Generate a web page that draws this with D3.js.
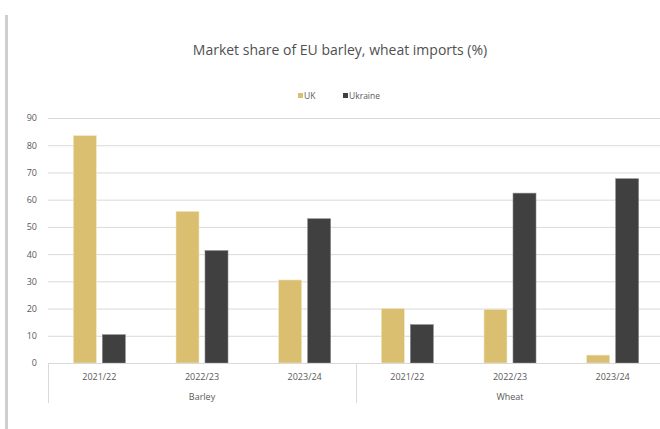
<!DOCTYPE html>
<html><head><meta charset="utf-8">
<script src="https://cdn.jsdelivr.net/npm/d3@7"></script>
<style>body{margin:0;background:#fff;}svg{display:block;font-family:"Open Sans",sans-serif;}</style>
</head><body><svg id="c" width="660" height="429"></svg>
<script>
const groups = ["Barley", "Wheat"];
const seasons = ["2021/22", "2022/23", "2023/24"];
const seriesNames = ["UK", "Ukraine"];
const ukValues = [83.5, 55.7, 30.5, 20.0, 19.7, 2.9];
const ukraineValues = [10.4, 41.3, 53.0, 14.1, 62.4, 67.7];
const yTicks = [0, 10, 20, 30, 40, 50, 60, 70, 80, 90];
const colors = ["#d9bf6f", "#404040"];

(function () {
const svg = d3.select("#c");
const mL = 48, mR = 664, mT = 118, mB = 363;
const cats = [];
groups.forEach(g => seasons.forEach(s => cats.push(g + "|" + s)));
const x = d3.scaleBand().domain(cats).range([mL, mR]);
const xs = d3.scaleBand().domain(seriesNames).range([0, x.bandwidth()]).paddingInner(0.207).paddingOuter(0.874);
const y = d3.scaleLinear().domain([0, 90]).range([mB, mT]);

svg.append("rect").attr("x", 5).attr("y", 15).attr("width", 3).attr("height", 414).attr("fill", "#cfcfcf");

svg.append("text").attr("x", 340).attr("y", 55).attr("text-anchor", "middle")
  .attr("font-size", 14).attr("fill", "#505050").text("Market share of EU barley, wheat imports (%)");

const legX = [298, 343];
seriesNames.forEach((n, i) => {
  svg.append("rect").attr("x", legX[i]).attr("y", 93).attr("width", 5).attr("height", 5).attr("fill", colors[i]);
  svg.append("text").attr("x", legX[i] + 6).attr("y", 98.5).attr("font-size", 8.5).attr("fill", "#595959").text(n);
});

const ya = svg.append("g").attr("transform", `translate(${mL},0)`)
  .call(d3.axisLeft(y).tickValues(yTicks).tickSize(-(mR - mL)).tickPadding(11));
ya.select(".domain").remove();
ya.selectAll(".tick line").attr("stroke", "#d9d9d9").attr("stroke-width", 1);
ya.selectAll(".tick text").attr("font-size", 9).attr("fill", "#595959").attr("font-family", "Open Sans, sans-serif");

const data = cats.map((c, i) => ({c, vals: [ukValues[i], ukraineValues[i]]}));
data.forEach(d => {
  d.vals.forEach((v, j) => {
    svg.append("rect").attr("x", x(d.c) + xs(seriesNames[j])).attr("y", y(v))
      .attr("width", xs.bandwidth()).attr("height", y(0) - y(v))
      .attr("fill", colors[j]).attr("stroke", j ? "#8a8a8a" : "#f2e6c0").attr("stroke-width", 0.6);
  });
});

svg.append("line").attr("x1", mL).attr("x2", mR).attr("y1", mB + 0.5).attr("y2", mB + 0.5).attr("stroke", "#d9d9d9");
const xa = svg.append("g").attr("transform", `translate(0,${mB})`)
  .call(d3.axisBottom(x).tickSize(0).tickPadding(11).tickFormat(d => d.split("|")[1]));
xa.select(".domain").remove();
xa.selectAll(".tick text").attr("font-size", 9).attr("fill", "#595959").attr("font-family", "Open Sans, sans-serif");

const gScale = d3.scaleBand().domain(groups).range([mL, mR]);
[mL, mL + gScale.bandwidth(), mR].forEach(px => {
  svg.append("line").attr("x1", px + 0.5).attr("x2", px + 0.5).attr("y1", mB).attr("y2", 403).attr("stroke", "#d9d9d9");
});
groups.forEach(g => {
  svg.append("text").attr("x", gScale(g) + gScale.bandwidth() / 2).attr("y", 400).attr("text-anchor", "middle")
    .attr("font-size", 9).attr("fill", "#595959").text(g);
});
})();
</script></body></html>
